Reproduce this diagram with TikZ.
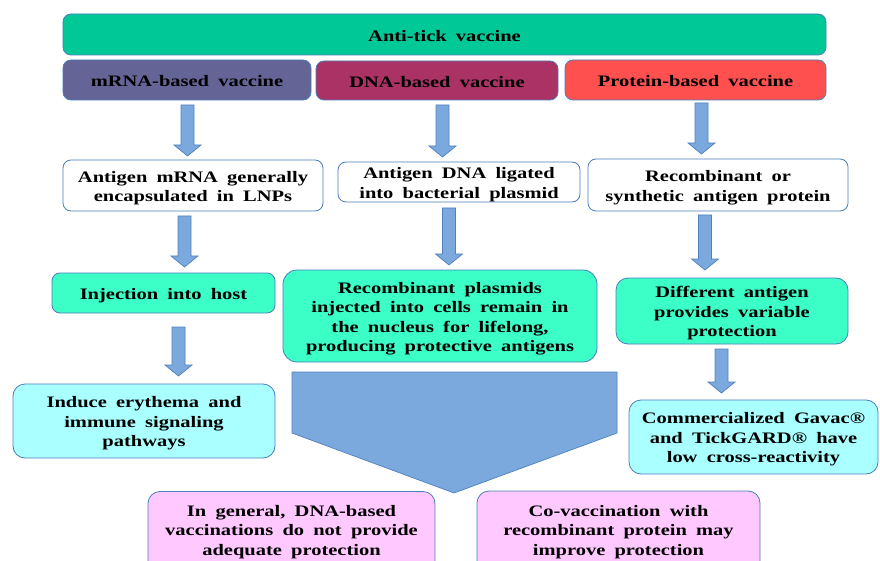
\documentclass[tikz,border=0pt]{standalone}
\usepackage{fontspec}
\setmainfont{Liberation Serif}[FakeStretch=1.28, WordSpace=1.8]
\definecolor{bordc}{HTML}{4A7EBB}
\definecolor{topg}{HTML}{00C896}
\definecolor{mrnac}{HTML}{646496}
\definecolor{dnac}{HTML}{AA3264}
\definecolor{protc}{HTML}{FF5050}
\definecolor{aquac}{HTML}{3CFFC8}
\definecolor{cyanc}{HTML}{AAFFFF}
\definecolor{pinkc}{HTML}{FFC8FF}
\definecolor{arrf}{HTML}{7CA9DD}
\definecolor{arrd}{HTML}{4F81BD}
\tikzset{
  box/.style={draw=bordc, line width=0.8pt, rounded corners=8pt, inner sep=0pt},
  txt/.style={inner sep=0pt, align=center, yshift=-2.5pt,
    font=\fontsize{16}{19.5}\selectfont\bfseries},
  blk/.style={fill=arrf, draw=arrd, line width=0.7pt, line join=miter}
}
\newcommand{\barrow}[3]{%
  \path[blk] ({#1-6.5},#2) -- ({#1+6.5},#2) -- ({#1+6.5},#3-11) -- ({#1+13.5},#3-11)
    -- (#1,#3) -- ({#1-13.5},#3-11) -- ({#1-6.5},#3-11) -- cycle;}
\begin{document}
\begin{tikzpicture}[x=1pt,y=-1pt]
\useasboundingbox (0,0) rectangle (880,561);
\clip (0,0) rectangle (880,561);
% top row
\node[box, fill=topg, minimum width=763pt, minimum height=41pt,
  label={[txt,yshift=1pt]center:{Anti-tick vaccine}}] (top) at (444.5,34.5) {};
\node[box, fill=mrnac, minimum width=248pt, minimum height=40pt,
  label={[txt,yshift=1pt]center:{mRNA-based vaccine}}] (mrna) at (187,80) {};
\node[box, fill=dnac, minimum width=242pt, minimum height=39pt,
  label={[txt,yshift=1pt]center:{DNA-based vaccine}}] (dna) at (437,80.5) {};
\node[box, fill=protc, minimum width=261pt, minimum height=40pt,
  label={[txt,yshift=1pt]center:{Protein-based vaccine}}] (prot) at (695.5,80) {};
% row 2
\node[box, fill=white, minimum width=260pt, minimum height=51pt,
  label={[txt]center:{Antigen mRNA generally\\encapsulated in LNPs}}] (ma) at (193,185.5) {};
\node[box, fill=white, minimum width=242pt, minimum height=40pt,
  label={[txt]center:{Antigen DNA ligated\\into bacterial plasmid}}] (da) at (459,182) {};
\node[box, fill=white, minimum width=260pt, minimum height=52pt,
  label={[txt]center:{Recombinant or\\synthetic antigen protein}}] (pa) at (718,185) {};
% row 3
\node[box, fill=aquac, minimum width=223pt, minimum height=40pt,
  label={[txt]center:{Injection into host}}] (mb) at (163.5,293) {};
\node[box, fill=aquac, rounded corners=14pt, minimum width=314pt, minimum height=92pt,
  label={[txt]center:{Recombinant plasmids\\injected into cells remain in\\the nucleus for lifelong,\\producing protective antigens}}] (db) at (440,316) {};
\node[box, fill=aquac, rounded corners=12pt, minimum width=232pt, minimum height=66pt,
  label={[txt]center:{Different antigen\\provides variable\\protection}}] (pb) at (732,311) {};
% row 4
\node[box, fill=cyanc, rounded corners=12pt, minimum width=262pt, minimum height=74pt,
  label={[txt]center:{Induce erythema and\\immune signaling\\pathways}}] (mc) at (144,421) {};
\node[box, fill=cyanc, rounded corners=12pt, minimum width=249pt, minimum height=74pt,
  label={[txt]center:{Commercialized Gavac®\\and TickGARD® have\\low cross-reactivity}}] (pc) at (753.5,437) {};
% big arrow
\path[blk] (292,372) -- (617,372) -- (617,433) -- (454,493) -- (292,433) -- cycle;
% row 5
\node[box, fill=pinkc, rounded corners=12pt, minimum width=287pt, minimum height=83pt,
  label={[txt,yshift=3.5pt]center:{In general, DNA-based\\vaccinations do not provide\\adequate protection}}] (ca) at (291.5,533) {};
\node[box, fill=pinkc, rounded corners=12pt, minimum width=283pt, minimum height=84pt,
  label={[txt,yshift=3.5pt]center:{Co-vaccination with\\recombinant protein may\\improve protection}}] (cb) at (618.5,533) {};
% block arrows
\barrow{187.5}{105}{156}
\barrow{442.5}{105}{157}
\barrow{701.5}{103}{154}
\barrow{184.5}{216}{267}
\barrow{449}{208}{265}
\barrow{705}{215}{270}
\barrow{178.5}{327}{376}
\barrow{721.5}{349}{393}
\end{tikzpicture}
\end{document}
